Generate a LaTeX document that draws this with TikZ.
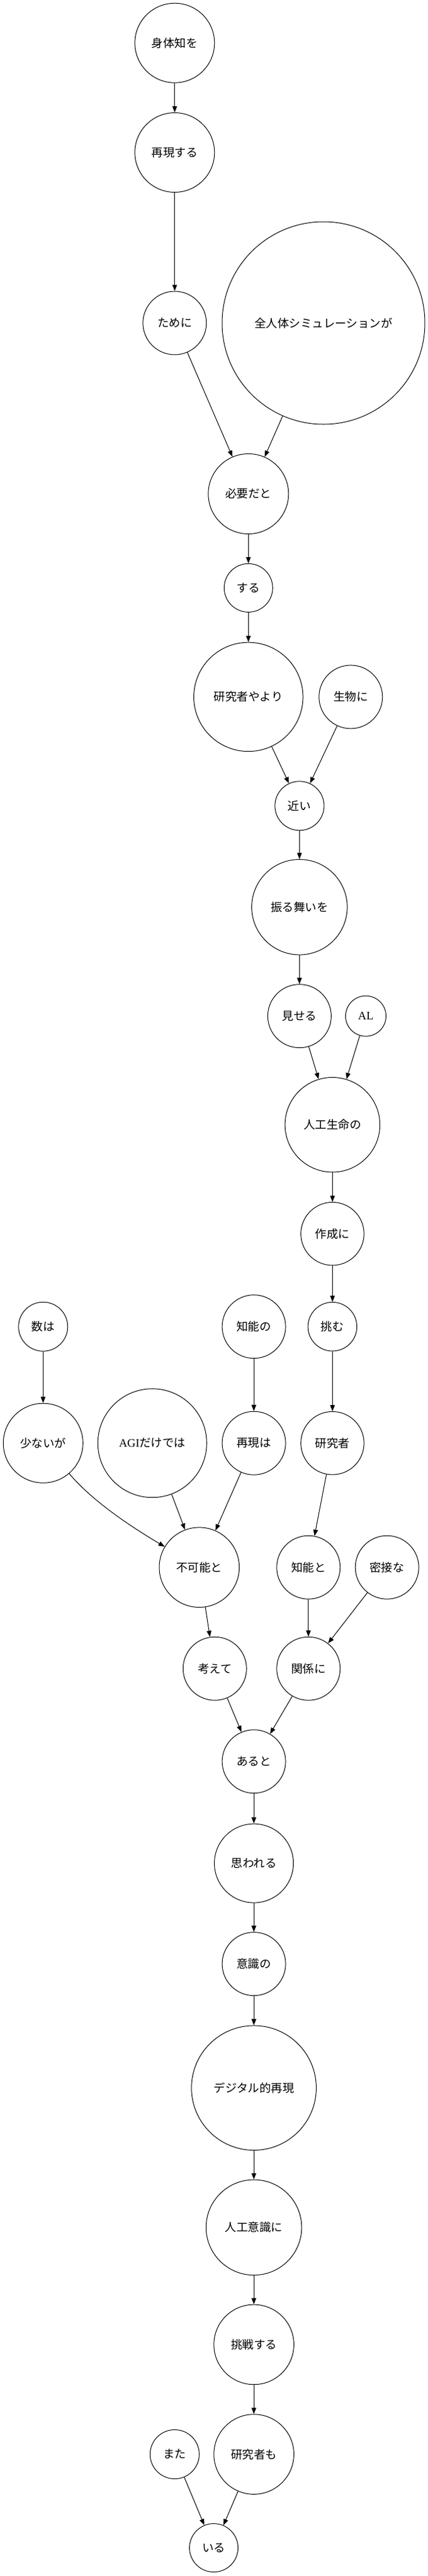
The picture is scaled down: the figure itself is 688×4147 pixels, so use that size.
\documentclass[tikz,border=0pt]{standalone}
\usepackage{fontspec}
\setmainfont{Noto Sans CJK JP}
\newfontfamily\lat{Liberation Serif}
\usetikzlibrary{arrows.meta}
\tikzset{
  nd/.style={draw, circle, inner sep=0pt, line width=1pt, minimum size=#1,
    font=\fontsize{18.5}{22}\selectfont},
  ar/.style={-{Triangle[length=10pt,width=7.5pt]}, line width=1pt}
}
\begin{document}
\begin{tikzpicture}[x=1pt,y=-1pt]
\useasboundingbox (0,0) rectangle (688,4147);
% nodes
\node[nd=128pt] (shintai) at (280.8,69.2) {身体知を};
\node[nd=128pt] (saigen) at (280.8,245.5) {再現する};
\node[nd=102pt] (tameni) at (280.8,520) {ために};
\node[nd=326pt] (zenjin) at (520,520) {全人体シミュレーションが};
\node[nd=129pt] (hitsuyou) at (399.3,795) {必要だと};
\node[nd=78pt] (suru) at (399.3,946.4) {する};
\node[nd=175.5pt] (kenyori) at (399.3,1121.9) {研究者やより};
\node[nd=102pt] (seibutsu) at (563.8,1121.9) {生物に};
\node[nd=79pt] (chikai) at (481.4,1297.3) {近い};
\node[nd=153.5pt] (furumai) at (481.4,1460.3) {振る舞いを};
\node[nd=102pt] (miseru) at (481.4,1635.7) {見せる};
\node[nd=65pt] (al) at (588,1635.7) {\lat AL};
\node[nd=152.5pt] (jinkou) at (534.4,1810.7) {人工生命の};
\node[nd=101.5pt] (sakusei) at (534.4,1986.2) {作成に};
\node[nd=78.6pt] (idomu) at (534.4,2135.7) {挑む};
\node[nd=79pt] (kazu) at (69.3,2135.7) {数は};
\node[nd=102pt] (chinouno) at (408.1,2135.7) {知能の};
\node[nd=128pt] (sukunai) at (69.3,2323.2) {少ないが};
\node[nd=175pt] (agi) at (244.8,2323.2) {{\lat AGI}だけでは};
\node[nd=102pt] (saigenha) at (408.1,2323.2) {再現は};
\node[nd=101.5pt] (kenkyusha) at (534.4,2323.2) {研究者};
\node[nd=128.6pt] (fukanou) at (320.3,2523.2) {不可能と};
\node[nd=102pt] (chinouto) at (495.8,2523.2) {知能と};
\node[nd=102pt] (missetsu) at (622.2,2523.2) {密接な};
\node[nd=102pt] (kangaete) at (345.3,2686.2) {考えて};
\node[nd=102pt] (kankei) at (495.8,2686.2) {関係に};
\node[nd=102pt] (aruto) at (408.1,2835.7) {あると};
\node[nd=127pt] (omowareru) at (408.1,2999.6) {思われる};
\node[nd=102pt] (ishikino) at (408.1,3161.6) {意識の};
\node[nd=200.6pt] (digital) at (408.1,3361.2) {デジタル的再現};
\node[nd=153.6pt] (jinkouishiki) at (408.1,3585.8) {人工意識に};
\node[nd=128.6pt] (chousen) at (408.1,3774.4) {挑戦する};
\node[nd=128.6pt] (kenkyushamo) at (408.1,3951) {研究者も};
\node[nd=79pt] (mata) at (280.8,3951) {また};
\node[nd=78pt] (iru) at (343.6,4101.6) {いる};
% edges
\draw[ar] (shintai) -- (saigen);
\draw[ar] (saigen) -- (tameni);
\draw[ar] (tameni) -- (hitsuyou);
\draw[ar] (zenjin) -- (hitsuyou);
\draw[ar] (hitsuyou) -- (suru);
\draw[ar] (suru) -- (kenyori);
\draw[ar] (kenyori) -- (chikai);
\draw[ar] (seibutsu) -- (chikai);
\draw[ar] (chikai) -- (furumai);
\draw[ar] (furumai) -- (miseru);
\draw[ar] (miseru) -- (jinkou);
\draw[ar] (al) -- (jinkou);
\draw[ar] (jinkou) -- (sakusei);
\draw[ar] (sakusei) -- (idomu);
\draw[ar] (idomu) -- (kenkyusha);
\draw[ar] (kenkyusha) -- (chinouto);
\draw[ar] (chinouto) -- (kankei);
\draw[ar] (missetsu) -- (kankei);
\draw[ar] (kazu) -- (sukunai);
\draw[ar] (sukunai) .. controls (151,2419) and (213,2459) .. (fukanou);
\draw[ar] (agi) -- (fukanou);
\draw[ar] (chinouno) -- (saigenha);
\draw[ar] (saigenha) -- (fukanou);
\draw[ar] (fukanou) -- (kangaete);
\draw[ar] (kangaete) -- (aruto);
\draw[ar] (kankei) -- (aruto);
\draw[ar] (aruto) -- (omowareru);
\draw[ar] (omowareru) -- (ishikino);
\draw[ar] (ishikino) -- (digital);
\draw[ar] (digital) -- (jinkouishiki);
\draw[ar] (jinkouishiki) -- (chousen);
\draw[ar] (chousen) -- (kenkyushamo);
\draw[ar] (kenkyushamo) -- (iru);
\draw[ar] (mata) -- (iru);
\end{tikzpicture}
\end{document}
